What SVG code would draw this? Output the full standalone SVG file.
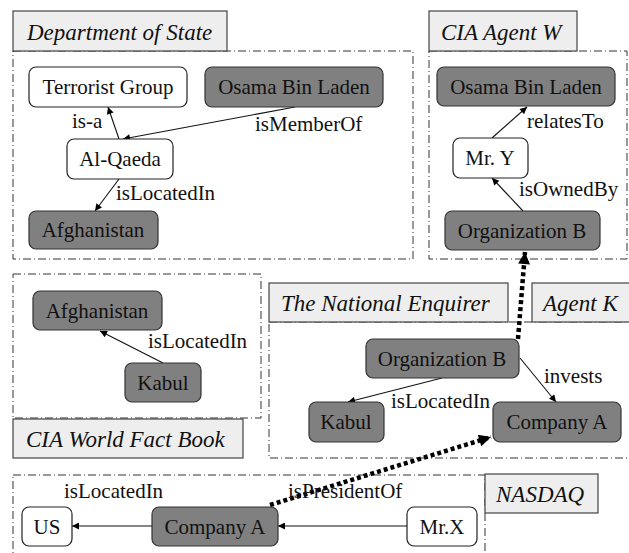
<svg xmlns="http://www.w3.org/2000/svg" width="629" height="553" viewBox="0 0 629 553">
<style>
.bg{fill:#ffffff}
.cont{fill:none;stroke:#333;stroke-width:1;stroke-dasharray:8 3 1 3}
.lab{fill:#eeeeee;stroke:#444;stroke-width:1.2}
.title{font-family:'Liberation Serif','Times New Roman',Times,'DejaVu Serif',serif;font-style:italic;font-size:23px;fill:#111}
.nw{fill:#ffffff;stroke:#222;stroke-width:1.2}
.ng{fill:#808080;stroke:#333;stroke-width:1.2}
.nt{font-family:'Liberation Serif','Times New Roman',Times,'DejaVu Serif',serif;font-size:21px;fill:#111;text-anchor:middle}
.et{font-family:'Liberation Serif','Times New Roman',Times,'DejaVu Serif',serif;font-size:21px;fill:#111}
.e{stroke:#111;stroke-width:1.1;fill:none;marker-end:url(#ah)}
.d{stroke:#000;stroke-width:4.5;fill:none;stroke-dasharray:4 3;marker-end:url(#dh)}
</style>
<defs>
<marker id="ah" viewBox="0 0 10 10" refX="10" refY="5" markerWidth="9" markerHeight="7" markerUnits="userSpaceOnUse" orient="auto"><path d="M0,0 L10,5 L0,10 z" fill="#000"/></marker>
<marker id="dh" viewBox="0 0 10 10" refX="10" refY="5" markerWidth="13" markerHeight="12" markerUnits="userSpaceOnUse" orient="auto"><path d="M0,0 L10,5 L0,10 z" fill="#000"/></marker>
</defs>
<rect class="bg" x="0" y="0" width="629" height="553"/>

<g id="containers">
<rect class="cont" x="13" y="51" width="400" height="208"/>
<rect class="cont" x="429" y="51" width="198" height="208"/>
<rect class="cont" x="13" y="274" width="248" height="144"/>
<rect class="cont" x="269" y="322" width="364" height="136"/>
<rect class="cont" x="13" y="475" width="472" height="90"/>
</g>

<g id="titles">
<g id="t-dos"><rect class="lab" x="13" y="11" width="214" height="40"/><text class="title" x="27" y="40">Department of State</text></g>
<g id="t-ciaw"><rect class="lab" x="429" y="11" width="148" height="40"/><text class="title" x="441" y="40">CIA Agent W</text></g>
<g id="t-cwfb"><rect class="lab" x="13" y="419" width="230" height="39"/><text class="title" x="26" y="447">CIA World Fact Book</text></g>
<g id="t-ne"><rect class="lab" x="269" y="283" width="239" height="39"/><text class="title" x="281" y="311">The National Enquirer</text></g>
<g id="t-ak"><rect class="lab" x="532" y="283" width="100" height="39"/><text class="title" x="543" y="311">Agent K</text></g>
<g id="t-nasdaq"><rect class="lab" x="485" y="474" width="113" height="39"/><text class="title" x="496" y="502">NASDAQ</text></g>
</g>

<g id="connectors">
<line class="e" x1="119" y1="139" x2="108" y2="107"/>
<line class="e" x1="295" y1="107" x2="123" y2="139"/>
<line class="e" x1="119" y1="179" x2="95" y2="211"/>
<line class="e" x1="492" y1="138" x2="527" y2="107"/>
<line class="e" x1="523" y1="211" x2="492" y2="178"/>
<line class="e" x1="163" y1="363" x2="100" y2="331"/>
<line class="e" x1="442" y1="378" x2="348" y2="402"/>
<line class="e" x1="520" y1="358" x2="556" y2="402"/>
<line class="e" x1="407" y1="526" x2="278" y2="526"/>
<line class="e" x1="152" y1="526" x2="72" y2="526"/>
<line class="d" x1="518" y1="339" x2="525" y2="252"/>
<line class="d" x1="270" y1="505" x2="491" y2="437"/>
<text class="et" x="72" y="128">is-a</text>
<text class="et" x="255" y="131">isMemberOf</text>
<text class="et" x="116" y="200">isLocatedIn</text>
<text class="et" x="527" y="128">relatesTo</text>
<text class="et" x="519" y="196">isOwnedBy</text>
<text class="et" x="148" y="348">isLocatedIn</text>
<text class="et" x="544" y="383">invests</text>
<text class="et" x="391" y="408">isLocatedIn</text>
<text class="et" x="64" y="498">isLocatedIn</text>
<text class="et" x="288" y="498">isPresidentOf</text>
</g>

<g id="n-terrorist"><rect class="nw" x="29" y="67" width="158" height="40" rx="7"/><text class="nt" x="108" y="94">Terrorist Group</text></g>
<g id="n-osama1"><rect class="ng" x="205" y="67" width="178" height="40" rx="7"/><text class="nt" x="294" y="94">Osama Bin Laden</text></g>
<g id="n-alqaeda"><rect class="nw" x="67" y="139" width="106" height="40" rx="7"/><text class="nt" x="120" y="166">Al-Qaeda</text></g>
<g id="n-afg1"><rect class="ng" x="29" y="211" width="129" height="38" rx="7"/><text class="nt" x="93" y="237">Afghanistan</text></g>
<g id="n-osama2"><rect class="ng" x="437" y="67" width="178" height="39" rx="7"/><text class="nt" x="526" y="94">Osama Bin Laden</text></g>
<g id="n-mry"><rect class="nw" x="453" y="138" width="75" height="40" rx="7"/><text class="nt" x="490" y="165">Mr. Y</text></g>
<g id="n-orgb1"><rect class="ng" x="445" y="211" width="155" height="39" rx="7"/><text class="nt" x="522" y="238">Organization B</text></g>
<g id="n-afg2"><rect class="ng" x="33" y="291" width="129" height="39" rx="7"/><text class="nt" x="97" y="318">Afghanistan</text></g>
<g id="n-kabul1"><rect class="ng" x="125" y="363" width="76" height="39" rx="7"/><text class="nt" x="163" y="390">Kabul</text></g>
<g id="n-orgb2"><rect class="ng" x="366" y="339" width="153" height="39" rx="7"/><text class="nt" x="442" y="366">Organization B</text></g>
<g id="n-kabul2"><rect class="ng" x="309" y="402" width="75" height="40" rx="7"/><text class="nt" x="346" y="429">Kabul</text></g>
<g id="n-compa1"><rect class="ng" x="493" y="402" width="128" height="40" rx="7"/><text class="nt" x="557" y="429">Company A</text></g>
<g id="n-us"><rect class="nw" x="22" y="507" width="50" height="39" rx="7"/><text class="nt" x="47" y="534">US</text></g>
<g id="n-compa2"><rect class="ng" x="152" y="507" width="126" height="39" rx="7"/><text class="nt" x="215" y="534">Company A</text></g>
<g id="n-mrx"><rect class="nw" x="407" y="507" width="70" height="39" rx="7"/><text class="nt" x="442" y="534">Mr.X</text></g>
</svg>
